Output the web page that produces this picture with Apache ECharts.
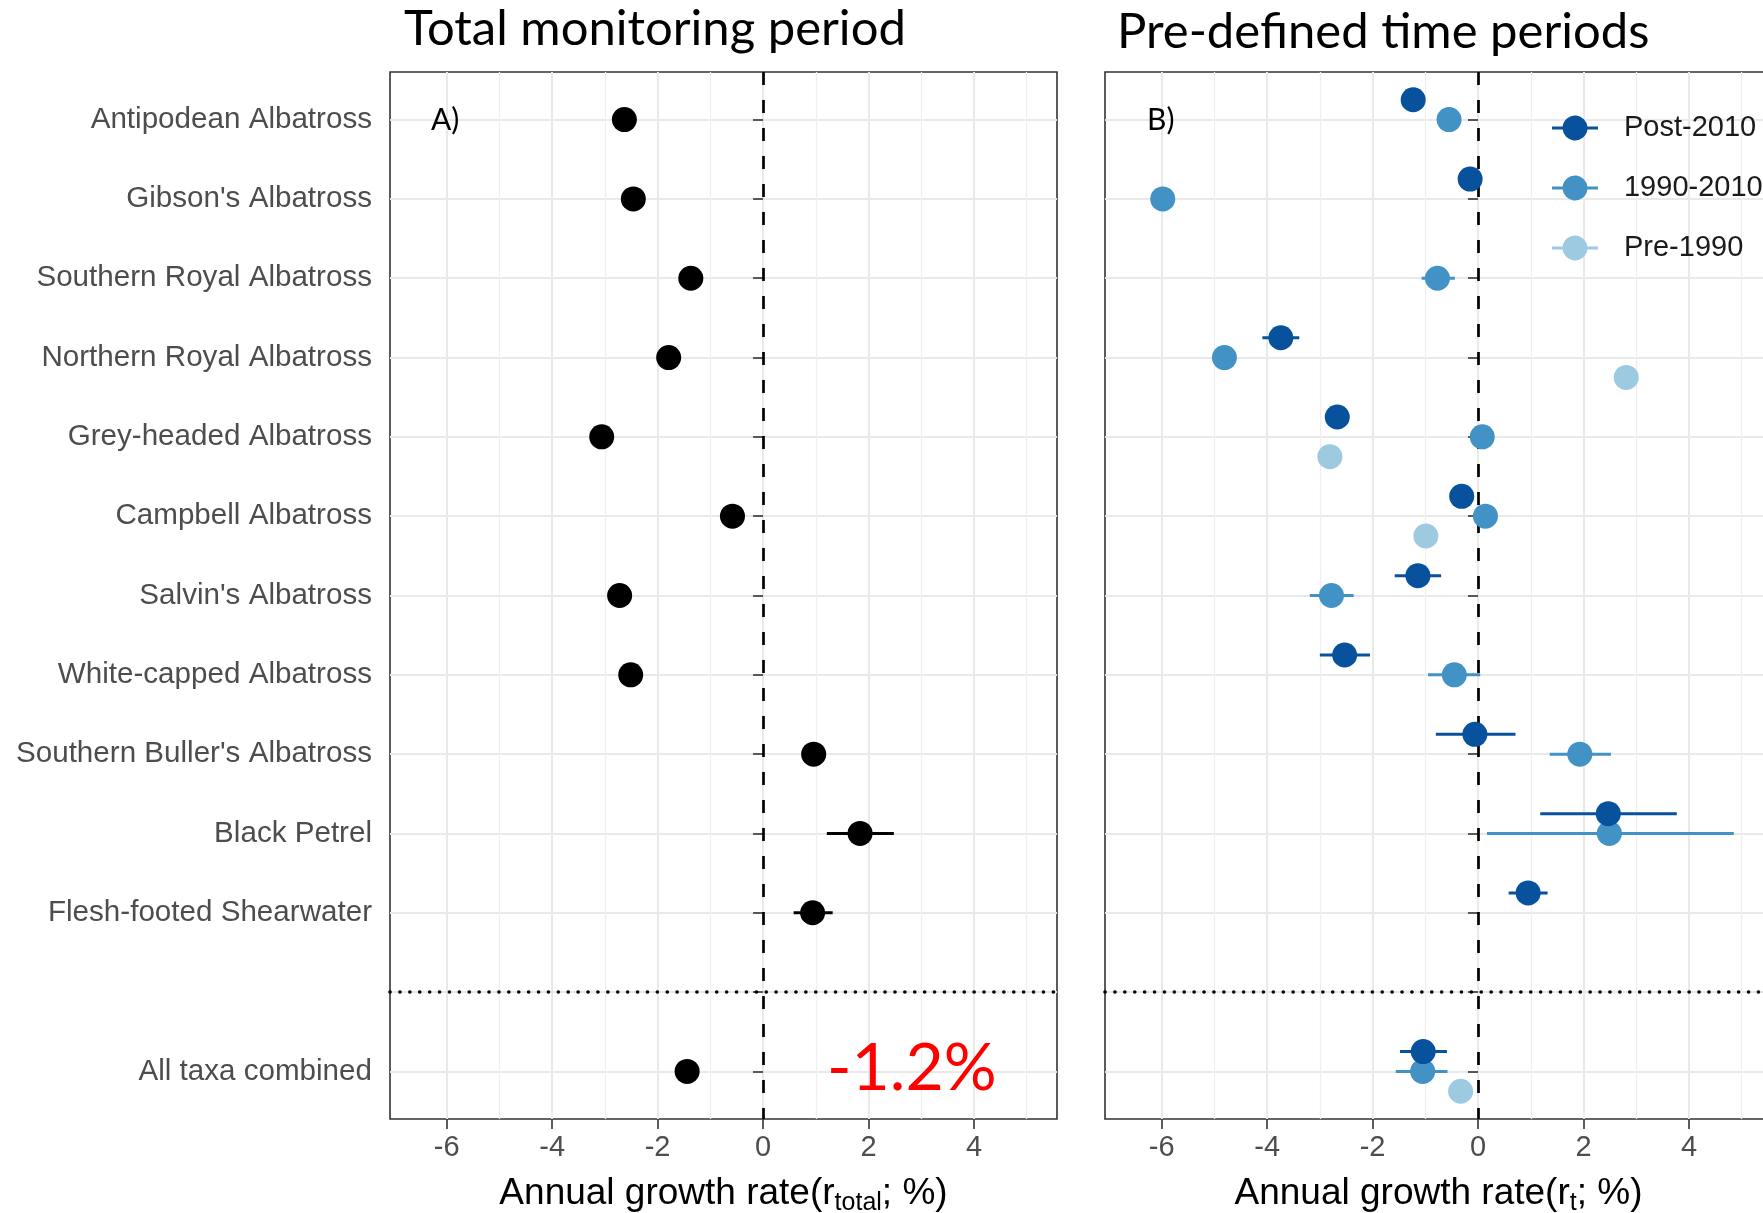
<!DOCTYPE html>
<html>
<head>
<meta charset="utf-8">
<script src="https://cdn.jsdelivr.net/npm/echarts@6/dist/echarts.min.js"></script>
<style>
  html, body { margin: 0; padding: 0; background: #ffffff; }
  #chart { width: 1763px; height: 1213px; }
</style>
</head>
<body>
<div id="chart"></div>
<script>
// Rows, top to bottom. The empty row separates the combined estimate.
const rowLabels = [
  'Antipodean Albatross',
  "Gibson's Albatross",
  'Southern Royal Albatross',
  'Northern Royal Albatross',
  'Grey-headed Albatross',
  'Campbell Albatross',
  "Salvin's Albatross",
  'White-capped Albatross',
  "Southern Buller's Albatross",
  'Black Petrel',
  'Flesh-footed Shearwater',
  '',
  'All taxa combined'
];

const xTickValues = [-6, -4, -2, 0, 2, 4];
const xMinorValues = [-5, -3, -1, 1, 3, 5];

// Panel A: annual growth rate over the whole monitoring period (%)
const totalRate = [-2.63, -2.46, -1.37, -1.79, -3.06, -0.58, -2.72, -2.51, 0.96, 1.84, 0.94, null, -1.44];
const totalLow  = [null, null, null, null, null, null, null, null, null, 1.21, 0.58, null, null];
const totalHigh = [null, null, null, null, null, null, null, null, null, 2.48, 1.32, null, null];
const overallDeclineText = '-1.2%';

// Panel B: annual growth rate by time period (%)
const periodNames = ['Post-2010', '1990-2010', 'Pre-1990'];

const post2010Rate = [-1.23, -0.15, null, -3.74, -2.67, -0.31, -1.14, -2.53, -0.06, 2.47, 0.95, null, -1.04];
const post2010Low  = [null, null, null, -4.09, null, null, -1.58, -3.00, -0.80, 1.18, 0.58, null, -1.48];
const post2010High = [null, null, null, -3.39, null, null, -0.70, -2.05, 0.71, 3.77, 1.32, null, -0.59];

const mid1990Rate = [-0.55, -5.98, -0.77, -4.81, 0.08, 0.14, -2.78, -0.45, 1.93, 2.49, null, null, -1.05];
const mid1990Low  = [null, null, -1.07, null, null, null, -3.19, -0.95, 1.36, 0.17, null, null, -1.56];
const mid1990High = [null, null, -0.44, null, null, null, -2.36, 0.04, 2.52, 4.85, null, null, -0.58];

const pre1990Rate = [null, null, null, 2.81, -2.81, -0.99, null, null, null, null, null, null, -0.33];
const pre1990Low  = [null, null, null, null, null, null, null, null, null, null, null, null, null];
const pre1990High = [null, null, null, null, null, null, null, null, null, null, null, null, null];

// Styling and layout
const periodColors = ['#08519c', '#4292c6', '#9ecae1'];
const periodDodge = [-0.25, 0, 0.25];
const separatorRow = 12;
const sansFont = '"Liberation Sans", Arial, Helvetica, sans-serif';
const titleFont = 'Lato, "Open Sans", sans-serif';

const chart = echarts.init(document.getElementById('chart'), null, { renderer: 'canvas' });

function pointData(values, dodge) {
  const out = [];
  values.forEach((v, i) => { if (v != null) out.push([v, i + 1 + dodge]); });
  return out;
}
function intervalData(lo, hi, dodge) {
  const out = [];
  lo.forEach((l, i) => { if (l != null && hi[i] != null) out.push([l, hi[i], i + 1 + dodge]); });
  return out;
}
function errorBars(name, data, color, xi, yi) {
  return {
    type: 'custom', name, xAxisIndex: xi, yAxisIndex: yi, data, z: 3, silent: true,
    encode: { x: [0, 1], y: 2 },
    renderItem(params, api) {
      const a = api.coord([api.value(0), api.value(2)]);
      const b = api.coord([api.value(1), api.value(2)]);
      return {
        type: 'line',
        shape: { x1: a[0], y1: a[1], x2: b[0], y2: b[1] },
        style: { stroke: color, lineWidth: 3 }
      };
    }
  };
}
function points(name, data, color, xi, yi, z) {
  return {
    type: 'scatter', name, xAxisIndex: xi, yAxisIndex: yi, data, z,
    symbol: 'circle', symbolSize: 25, silent: true,
    itemStyle: { color, opacity: 1 }
  };
}
function referenceLines(xi, yi) {
  return {
    type: 'scatter', xAxisIndex: xi, yAxisIndex: yi, data: [], z: 2, silent: true,
    markLine: {
      symbol: 'none', silent: true, animation: false, label: { show: false },
      data: [
        { xAxis: 0, lineStyle: { color: '#000', width: 2.7, type: [13, 15] } },
        { yAxis: separatorRow, lineStyle: { color: '#000', width: 3.6, type: [0.1, 9.8], cap: 'round' } }
      ]
    }
  };
}

const gridBox = {
  top: 72, height: 1047, width: 667,
  show: true, borderColor: '#333', borderWidth: 1.6, backgroundColor: 'transparent',
  outerBoundsMode: 'none', containLabel: false
};
const rowTicks = rowLabels.map((_, i) => i + 1);

function mainX(gi, nameRich) {
  return {
    type: 'value', gridIndex: gi, min: -7.075, max: 5.575,
    name: nameRich, nameLocation: 'middle', nameGap: 53,
    nameTextStyle: {
      fontFamily: sansFont, fontSize: 37, color: '#000', lineHeight: 44,
      rich: { sub: { fontFamily: sansFont, fontSize: 25, color: '#000', verticalAlign: 'bottom', lineHeight: 30 } }
    },
    axisLine: { show: false },
    axisTick: { show: true, length: 10, customValues: xTickValues, lineStyle: { color: '#333', width: 1.6 } },
    axisLabel: { show: true, customValues: xTickValues, margin: 14, fontFamily: sansFont, fontSize: 29, color: '#4d4d4d' },
    splitLine: { show: true, lineStyle: { color: '#e9e9e9', width: 2 } }
  };
}
function minorX(gi) {
  return {
    type: 'value', gridIndex: gi, min: -7.075, max: 5.575, position: 'bottom',
    axisLine: { show: false },
    axisTick: { show: false, customValues: xMinorValues },
    axisLabel: { show: false, customValues: xMinorValues },
    splitLine: { show: true, lineStyle: { color: '#efefef', width: 1.3 } }
  };
}
function rowY(gi, showLabels) {
  return {
    type: 'value', gridIndex: gi, inverse: true, min: 0.4, max: 13.6,
    axisLine: { show: false },
    axisTick: { show: true, length: 10, customValues: rowTicks, lineStyle: { color: '#333', width: 1.6 } },
    axisLabel: {
      show: showLabels, customValues: rowTicks, margin: 18,
      fontFamily: sansFont, fontSize: 29.6, color: '#4d4d4d', padding: [6, 0, 0, 0],
      formatter: v => rowLabels[Math.round(v) - 1] || ''
    },
    splitLine: { show: true, lineStyle: { color: '#e9e9e9', width: 2 } }
  };
}

const periodRates = [post2010Rate, mid1990Rate, pre1990Rate];
const periodLows = [post2010Low, mid1990Low, pre1990Low];
const periodHighs = [post2010High, mid1990High, pre1990High];

const series = [referenceLines(0, 0), referenceLines(1, 1)];
series.push(errorBars('Total interval', intervalData(totalLow, totalHigh, 0), '#000', 0, 0));
series.push(points('Total', pointData(totalRate, 0), '#000', 0, 0, 5));
// Later periods are drawn first so Post-2010 sits on top
for (let k = periodNames.length - 1; k >= 0; k--) {
  series.push(errorBars(periodNames[k] + ' interval', intervalData(periodLows[k], periodHighs[k], periodDodge[k]), periodColors[k], 1, 1));
  series.push(points(periodNames[k], pointData(periodRates[k], periodDodge[k]), periodColors[k], 1, 1, 5 + (periodNames.length - k)));
}

// Legend key: a dot with a horizontal interval line through it
const keyIcon = 'path://M0,11 L10.59,11 A12.5,12.5 0 0 1 35.41,11 L46,11 L46,14 L35.41,14 A12.5,12.5 0 0 1 10.59,14 L0,14 Z';

const option = {
  animation: false,
  backgroundColor: '#ffffff',
  title: [
    { text: 'Total monitoring period', left: 404, top: 5, padding: 0,
      textStyle: { fontFamily: titleFont, fontSize: 49, fontWeight: 'normal', color: '#000' } },
    { text: 'Pre-defined time periods', left: 1117, top: 8, padding: 0,
      textStyle: { fontFamily: titleFont, fontSize: 49, fontWeight: 'normal', color: '#000' } }
  ],
  grid: [
    Object.assign({ left: 390 }, gridBox),
    Object.assign({ left: 1105 }, gridBox)
  ],
  xAxis: [
    mainX(0, 'Annual growth rate(r{sub|total}; %)'),
    mainX(1, 'Annual growth rate(r{sub|t}; %)'),
    minorX(0),
    minorX(1)
  ],
  yAxis: [rowY(0, true), rowY(1, false)],
  legend: {
    orient: 'vertical', left: 1552, top: 113.5,
    itemWidth: 46, itemHeight: 25, itemGap: 31, selectedMode: false, padding: 0,
    data: periodNames.map(n => ({ name: n, icon: keyIcon })),
    textStyle: { fontFamily: sansFont, fontSize: 29, color: '#1a1a1a', padding: [0, 0, 0, 21] }
  },
  graphic: [
    { type: 'text', left: 431, top: 105, z: 20, silent: true,
      style: { text: 'A)', font: '30px ' + titleFont, fill: '#000' } },
    { type: 'text', left: 1147, top: 105, z: 20, silent: true,
      style: { text: 'B)', font: '30px ' + titleFont, fill: '#000' } },
    { type: 'text', left: 827, top: 1036, z: 20, silent: true,
      style: { text: overallDeclineText, font: '66px ' + titleFont, fill: '#ff0000' } }
  ],
  series
};

chart.setOption(option);
</script>
</body>
</html>
